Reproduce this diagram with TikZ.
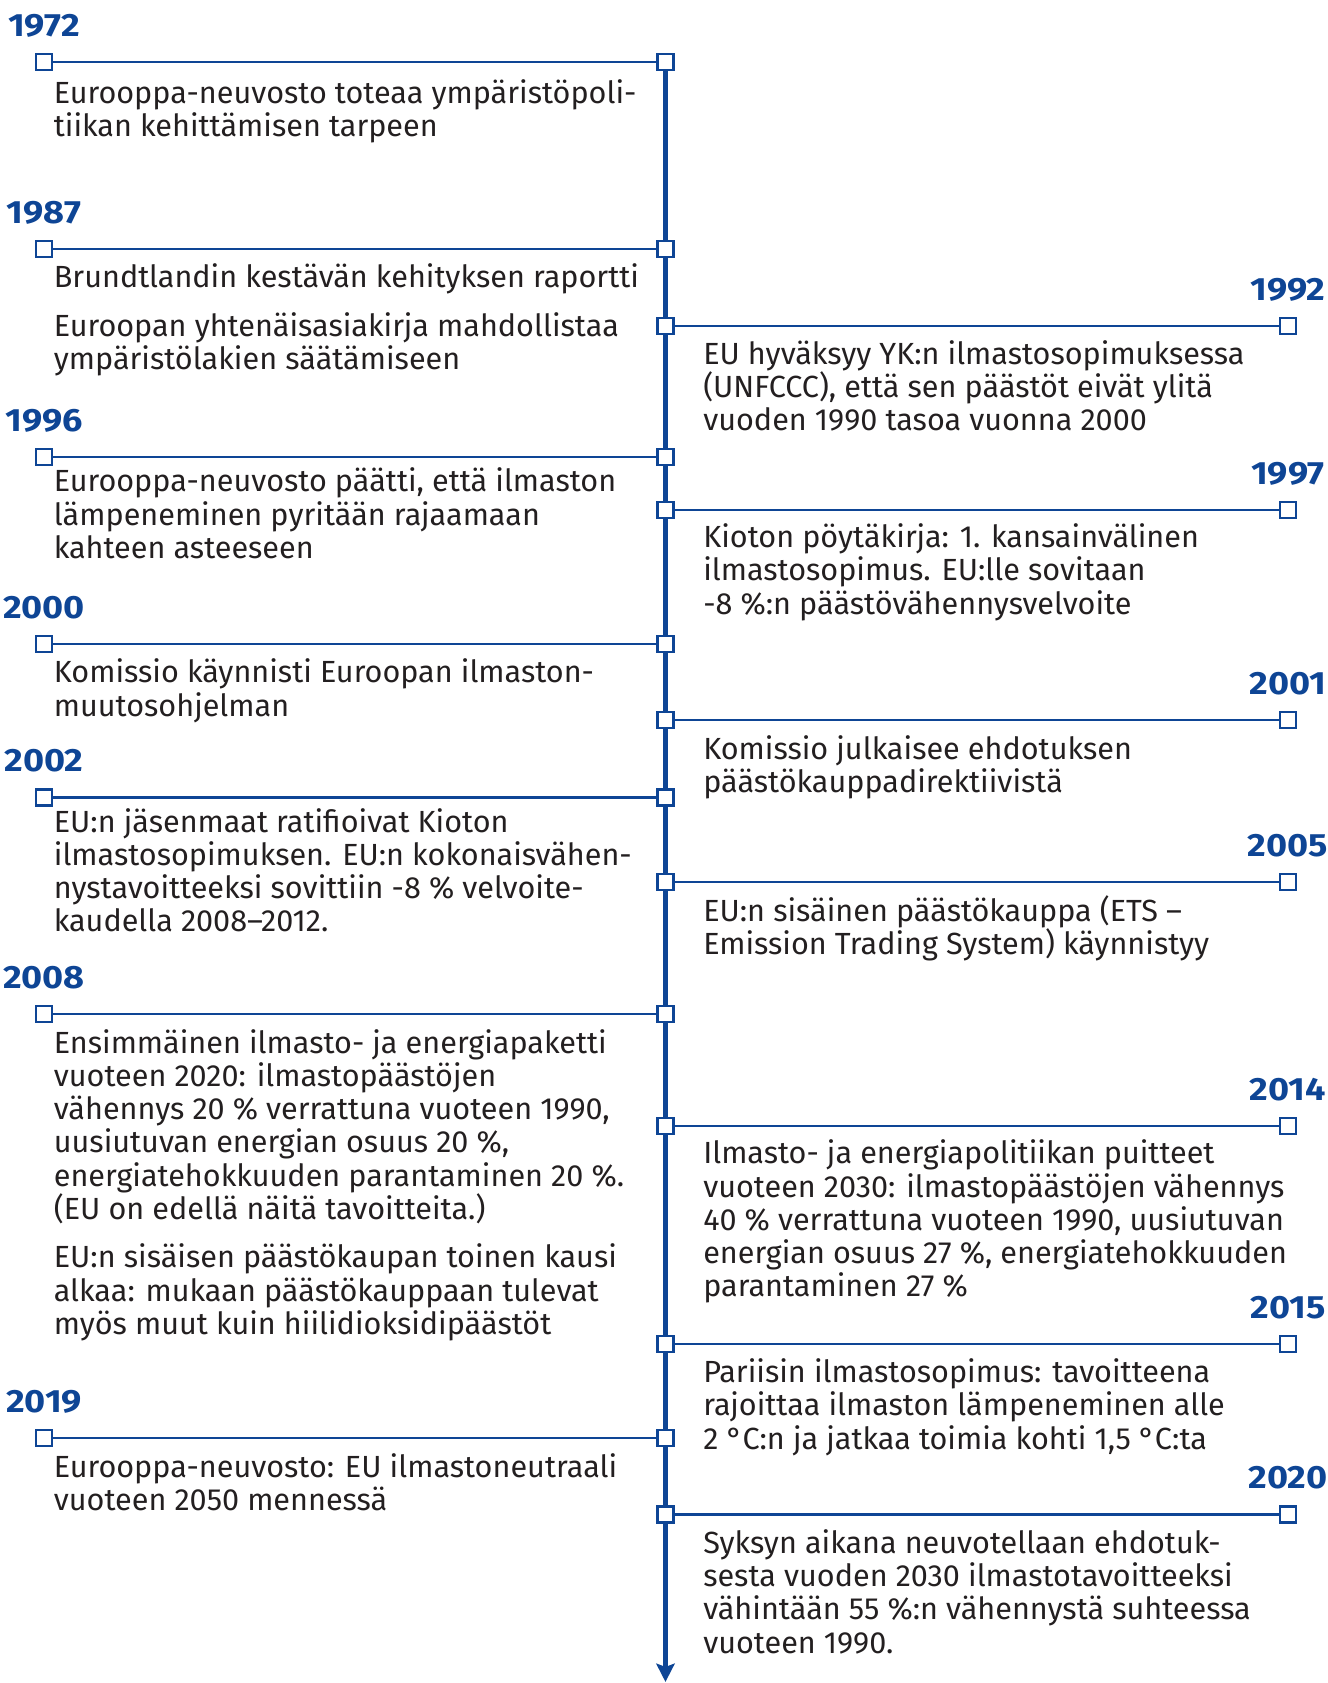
\documentclass[tikz,border=0pt]{standalone}
\usepackage{fontspec}
\setmainfont{Fira Sans}
\newfontfamily\yrfont{Fira Sans}[FakeStretch=1.12]
\usetikzlibrary{arrows.meta}
\definecolor{eublue}{HTML}{0E4595}
\definecolor{txt}{HTML}{231F20}
\pgfdeclarelayer{bg}
\pgfsetlayers{bg,main}
\newcommand\firstln{\rule{0pt}{28pt}}
\begin{document}
\begin{tikzpicture}[x=1pt,y=-1pt,
  sq/.style={draw=eublue, fill=white, line width=2pt, minimum size=15pt, inner sep=0pt, rectangle},
  hline/.style={eublue, line width=2pt},
  vline/.style={eublue, line width=4pt},
  yr/.style={font=\yrfont\fontsize{30}{30}\selectfont\bfseries, text=eublue, anchor=base, inner sep=0pt},
  body/.style={font=\fontsize{28.5}{31}\selectfont, text=txt, align=left, anchor=north west, inner sep=0pt}]
\useasboundingbox (0,0) rectangle (1237,1568);

% left entries: squares
\foreach \n/\y in {1972/58,1987/232,1996/426,2000/600,2002/743,2008/945,2019/1340}{
  \node[sq] (l\n) at (41,\y) {};
  \node[sq] (c\n) at (620,\y) {};
  \node[yr] (y\n) at (41,\y-24) {\n};
  \begin{pgfonlayer}{bg}\draw[hline] (l\n) -- (c\n);\end{pgfonlayer}
}
% right entries: squares
\foreach \n/\y in {1992/304,1997/475,2001/671,2005/822,2014/1049,2015/1252,2020/1411}{
  \node[sq] (c\n) at (620,\y) {};
  \node[sq] (r\n) at (1200,\y) {};
  \node[yr] (y\n) at (1200,\y-24) {\n};
  \begin{pgfonlayer}{bg}\draw[hline] (c\n) -- (r\n);\end{pgfonlayer}
}
\coordinate (end) at (620,1567);
\begin{pgfonlayer}{bg}
\draw[vline, -{Stealth[length=17pt,width=17pt,inset=3pt]}] (c1972.center) -- (end);
\end{pgfonlayer}

% left texts
\node[body] (t1972) at (50,98-30) {\firstln Eurooppa-neuvosto toteaa ympäristöpoli-\\tiikan kehittämisen tarpeen};
\node[body] (t1987a) at (50,270-30) {\firstln Brundtlandin kestävän kehityksen raportti};
\node[body] (t1987b) at (50,315-30) {\firstln Euroopan yhtenäisasiakirja mahdollistaa\\ympäristölakien säätämiseen};
\node[body] (t1996) at (50,460-30) {\firstln Eurooppa-neuvosto päätti, että ilmaston\\lämpeneminen pyritään rajaamaan\\kahteen asteeseen};
\node[body] (t2000) at (50,638-30) {\firstln Komissio käynnisti Euroopan ilmaston-\\muutosohjelman};
\node[body] (t2002) at (50,777-30) {\firstln EU:n jäsenmaat ratifioivat Kioton\\ilmastosopimuksen. EU:n kokonaisvähen-\\nystavoitteeksi sovittiin -8 \% velvoite-\\kaudella 2008–2012.};
\node[body] (t2008a) at (50,983-30) {\firstln Ensimmäinen ilmasto- ja energiapaketti\\vuoteen 2020: ilmastopäästöjen\\vähennys 20 \% verrattuna vuoteen 1990,\\uusiutuvan energian osuus 20 \%,\\energiatehokkuuden parantaminen 20 \%.\\(EU on edellä näitä tavoitteita.)};
\node[body] (t2008b) at (50,1183-30) {\firstln EU:n sisäisen päästökaupan toinen kausi\\alkaa: mukaan päästökauppaan tulevat\\myös muut kuin hiilidioksidipäästöt};
\node[body] (t2019) at (50,1378-30) {\firstln Eurooppa-neuvosto: EU ilmastoneutraali\\vuoteen 2050 mennessä};

% right texts
\node[body] (t1992) at (655,341-30) {\firstln EU hyväksyy YK:n ilmastosopimuksessa\\(UNFCCC), että sen päästöt eivät ylitä\\vuoden 1990 tasoa vuonna 2000};
\node[body] (t1997) at (655,512-30) {\firstln Kioton pöytäkirja: 1. kansainvälinen\\ilmastosopimus. EU:lle sovitaan\\-8 \%:n päästövähennysvelvoite};
\node[body] (t2001) at (655,709-30) {\firstln Komissio julkaisee ehdotuksen\\päästökauppadirektiivistä};
\node[body] (t2005) at (655,860-30) {\firstln EU:n sisäinen päästökauppa (ETS –\\Emission Trading System) käynnistyy};
\node[body] (t2014) at (655,1086-30) {\firstln Ilmasto- ja energiapolitiikan puitteet\\vuoteen 2030: ilmastopäästöjen vähennys\\40 \% verrattuna vuoteen 1990, uusiutuvan\\energian osuus 27 \%, energiatehokkuuden\\parantaminen 27 \%};
\node[body] (t2015) at (655,1290-30) {\firstln Pariisin ilmastosopimus: tavoitteena\\rajoittaa ilmaston lämpeneminen alle\\2 °C:n ja jatkaa toimia kohti 1,5 °C:ta};
\node[body] (t2020) at (655,1449-30) {\firstln Syksyn aikana neuvotellaan ehdotuk-\\sesta vuoden 2030 ilmastotavoitteeksi\\vähintään 55 \%:n vähennystä suhteessa\\vuoteen 1990.};
\end{tikzpicture}
\end{document}
